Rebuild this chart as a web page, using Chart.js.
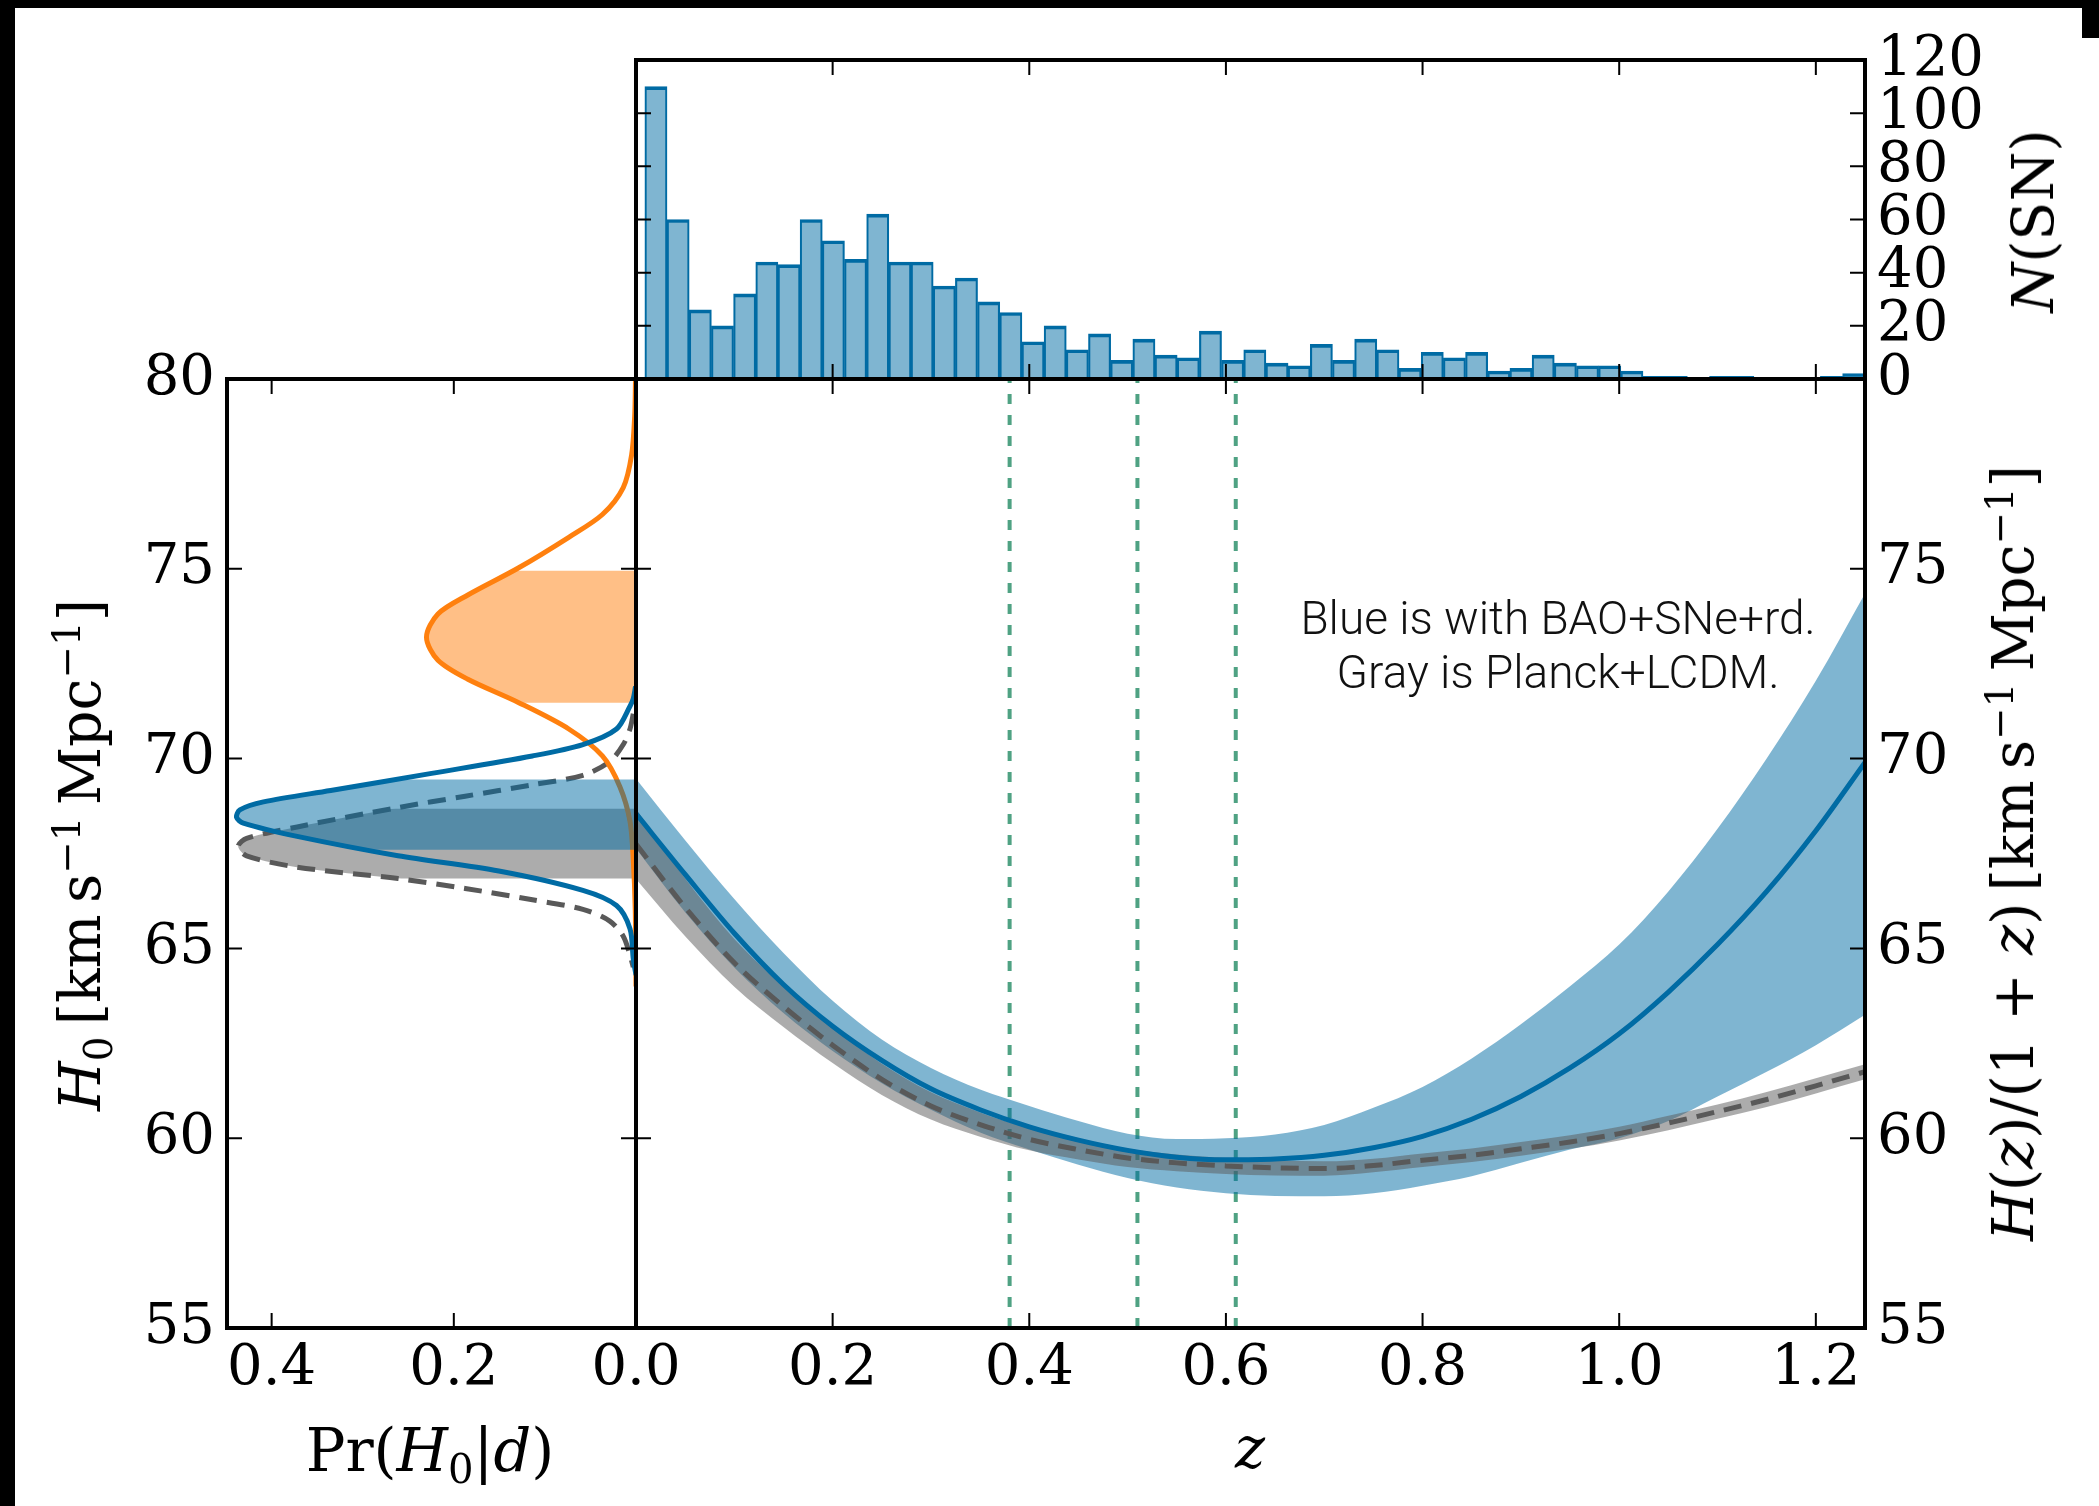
<!DOCTYPE html>
<html>
<head>
<meta charset="utf-8">
<script src="https://cdn.jsdelivr.net/npm/chart.js@4.4.0/dist/chart.umd.min.js"></script>
<style>
  html, body { margin: 0; padding: 0; background: #fff; }
  #wrap { position: relative; width: 2099px; height: 1506px; overflow: hidden; background: #fff; }
  canvas { position: absolute; left: 0; top: 0; }
  .lbl { position: absolute; font-family: 'DejaVu Serif', serif; font-size: 57px; color: #000; white-space: nowrap; transform: translate(-50%, -50%); }
  .rot { transform: translate(-50%, -50%) rotate(-90deg); }
  .lbl sup, .lbl sub { font-size: 0.68em; line-height: 0; }
  .note { position: absolute; font-family: Roboto, 'Open Sans', sans-serif; font-weight: 300; font-size: 46px; line-height: 54px; text-align: center; white-space: nowrap; transform: translateX(-50%); color: #111; }
  .blk { position: absolute; background: #000; }
</style>
</head>
<body>
<div id="wrap">
  <canvas id="left" width="2099" height="1506"></canvas>
  <canvas id="main" width="2099" height="1506"></canvas>
  <canvas id="hist" width="2099" height="1506"></canvas>

  <div class="lbl rot" style="left:80px; top:855px;"><i>H</i><sub>0</sub>&thinsp;[km&thinsp;s<sup>−1</sup>&thinsp;Mpc<sup>−1</sup>]</div>
  <div class="lbl rot" style="left:2013px; top:853px;"><i>H</i>(<i>z</i>)/(1 + <i>z</i>)&thinsp;[km&thinsp;s<sup>−1</sup>&thinsp;Mpc<sup>−1</sup>]</div>
  <div class="lbl rot" style="left:2033px; top:221px;"><i>N</i>(SN)</div>
  <div class="lbl" style="left:430px; top:1450px; font-size:59px;">Pr(<i>H</i><sub>0</sub>|<i>d</i>)</div>
  <div class="lbl" style="left:1250px; top:1448px;"><i>z</i></div>
  <div class="note" style="left:1558px; top:591px;">Blue is with BAO+SNe+rd.<br>Gray is Planck+LCDM.</div>

  <div class="blk" style="left:0; top:0; width:2099px; height:8px;"></div>
  <div class="blk" style="left:0; top:0; width:15px; height:1506px;"></div>
  <div class="blk" style="left:2082px; top:0; width:17px; height:38px;"></div>
</div>

<script>
// ---- data ----
var zTicks = [0, 0.2, 0.4, 0.6, 0.8, 1.0, 1.2];
var prTicks = [0.4, 0.2];
var hTicks = [55, 60, 65, 70, 75, 80];
var hRightTicks = [55, 60, 65, 70, 75];
var nTicks = [0, 20, 40, 60, 80, 100, 120];

// SN histogram
var binStart = 0.009, binWidth = 0.02256;
var snCounts = [110, 60, 26, 20, 32, 44, 43, 60, 52, 45,
                62, 44, 44, 35, 38, 29, 25, 14, 20, 11,
                17, 7, 15, 9, 8, 18, 7, 11, 6, 5,
                13, 7, 15, 11, 4, 10, 8, 10, 3, 4,
                9, 6, 5, 5, 3, 1, 1, 0, 1, 1,
                0, 0, 0, 1, 2];

// H(z)/(1+z) reconstruction
var zGrid = [0, 0.05, 0.1, 0.15, 0.2, 0.25, 0.3, 0.35, 0.4, 0.45, 0.5, 0.55, 0.6, 0.65, 0.7,
             0.75, 0.8, 0.85, 0.9, 0.95, 1.0, 1.05, 1.1, 1.15, 1.2, 1.25];
var blueMid   = [68.55, 66.95, 65.4, 64.05, 62.95, 62.05, 61.3, 60.75, 60.3, 59.95, 59.68, 59.5, 59.43, 59.45, 59.55,
                 59.75, 60.05, 60.5, 61.1, 61.85, 62.75, 63.85, 65.1, 66.5, 68.1, 69.9];
var blueUpper = [69.47, 67.85, 66.3, 64.88, 63.62, 62.6, 61.85, 61.28, 60.85, 60.45, 60.12, 59.98, 60.0, 60.1, 60.35,
                 60.8, 61.35, 62.1, 63.0, 64.0, 65.1, 66.5, 68.15, 70.0, 72.05, 74.35];
var blueLower = [67.63, 65.95, 64.5, 63.3, 62.3, 61.45, 60.75, 60.15, 59.7, 59.3, 58.95, 58.7, 58.55, 58.48, 58.47,
                 58.55, 58.75, 59.0, 59.35, 59.7, 60.0, 60.45, 61.1, 61.75, 62.45, 63.25];
var grayMid   = [67.75, 66.08, 64.62, 63.47, 62.45, 61.55, 60.85, 60.36, 59.97, 59.7, 59.48, 59.35, 59.27, 59.22, 59.2,
                 59.28, 59.42, 59.55, 59.72, 59.9, 60.12, 60.4, 60.7, 61.02, 61.38, 61.75];
var grayUpper = [68.67, 66.84, 65.25, 64.01, 62.92, 61.96, 61.21, 60.68, 60.26, 59.96, 59.72, 59.57, 59.48, 59.42, 59.39,
                 59.46, 59.6, 59.73, 59.9, 60.08, 60.3, 60.59, 60.89, 61.22, 61.58, 61.95];
var grayLower = [66.83, 65.32, 63.99, 62.93, 61.98, 61.14, 60.49, 60.04, 59.68, 59.44, 59.24, 59.13, 59.06, 59.02, 59.01,
                 59.1, 59.24, 59.37, 59.54, 59.72, 59.94, 60.21, 60.51, 60.82, 61.18, 61.55];
var zBAO = [0.38, 0.51, 0.61];

// Pr(H0|d)
var orangeH  = [80.0, 79.0, 78.0, 77.14, 76.43, 75.83, 75.02, 74.31, 73.81, 73.2, 72.59, 72.09, 71.48, 70.78, 70.07, 69.26, 68.35, 67.34, 66.0, 64.0];
var orangePr = [0.0005, 0.0015, 0.0048, 0.014, 0.0369, 0.0738, 0.1292, 0.1846, 0.2174, 0.23, 0.2174, 0.1846, 0.1292, 0.0738, 0.0369, 0.0177, 0.0066, 0.003, 0.0008, 0.0];
var blueH  = [71.9, 71.58, 71.38, 70.78, 70.37, 70.07, 69.61, 69.16, 68.86, 68.65, 68.45, 68.3, 67.95, 67.44, 67.04, 66.53, 66.13, 65.52, 64.72, 64.3];
var bluePr = [0.0005, 0.003, 0.0066, 0.0214, 0.0583, 0.1137, 0.2244, 0.3352, 0.409, 0.4349, 0.4385, 0.4311, 0.372, 0.2613, 0.1506, 0.0583, 0.0214, 0.0066, 0.003, 0.0];
var grayH  = [71.18, 70.78, 70.37, 69.92, 69.56, 69.31, 69.01, 68.71, 68.2, 67.9, 67.69, 67.44, 67.14, 66.84, 66.58, 66.28, 66.03, 65.72, 65.32, 64.82, 64.51];
var grayPr = [0.003, 0.0066, 0.014, 0.0288, 0.0583, 0.1137, 0.1875, 0.2613, 0.372, 0.4275, 0.4367, 0.4275, 0.372, 0.2613, 0.1875, 0.1137, 0.0583, 0.0288, 0.014, 0.0066, 0.003];
var orangeBand = [71.47, 74.95];
var blueBand = [67.6, 69.45];
var grayBand = [66.84, 68.68];

// ---- styling ----
var BLUE = '#006BA4', ORANGE = '#FF800E', DGRAY = '#595959', GREEN = '#4fa283';
var blueFill = 'rgba(0,107,164,0.5)', grayFill = 'rgba(89,89,89,0.5)', orangeFill = 'rgba(255,128,14,0.5)';

Chart.defaults.font.family = 'DejaVu Serif';
Chart.defaults.font.size = 56;
Chart.defaults.color = '#000';

function pts(xs, ys) { return xs.map(function (x, i) { return {x: x, y: ys[i]}; }); }
function fixW(w) { return function (s) { s.width = w; }; }
function fixH(h) { return function (s) { s.height = h; }; }
function setTicks(list) { return function (s) { s.ticks = list.map(function (v) { return {value: v}; }); }; }

// black frame + inward ticks, matplotlib classic look
var framePlugin = {
  id: 'frame',
  afterDraw: function (chart, args, opts) {
    var ctx = chart.ctx, a = chart.chartArea, sx = chart.scales.x, sy = chart.scales.y;
    ctx.save();
    ctx.strokeStyle = '#000';
    ctx.lineWidth = 2;
    ctx.beginPath();
    (opts.xTicks || []).forEach(function (v) {
      var px = sx.getPixelForValue(v);
      ctx.moveTo(px, a.bottom); ctx.lineTo(px, a.bottom - 15);
      ctx.moveTo(px, a.top); ctx.lineTo(px, a.top + 15);
    });
    (opts.yTicks || []).forEach(function (v) {
      var py = sy.getPixelForValue(v);
      ctx.moveTo(a.left, py); ctx.lineTo(a.left + 15, py);
      ctx.moveTo(a.right, py); ctx.lineTo(a.right - 15, py);
    });
    ctx.stroke();
    ctx.lineWidth = 4;
    ctx.strokeRect(a.left, a.top, a.right - a.left, a.bottom - a.top);
    ctx.restore();
  }
};

// shade the area between a curve and Pr=0 inside an H0 interval
var shadePlugin = {
  id: 'shade',
  beforeDatasetDraw: function (chart, args) {
    var ds = chart.data.datasets[args.index];
    if (!ds.band) return;
    var ctx = chart.ctx, a = chart.chartArea, sx = chart.scales.x, sy = chart.scales.y;
    var line = args.meta.dataset;
    line.updateControlPoints(a, 'x');
    var x0 = sx.getPixelForValue(0);
    var yHi = sy.getPixelForValue(ds.band[1]), yLo = sy.getPixelForValue(ds.band[0]);
    var p = line.points;
    ctx.save();
    ctx.beginPath();
    ctx.rect(a.left, yHi, a.right - a.left, yLo - yHi);
    ctx.clip();
    ctx.beginPath();
    line.path(ctx);
    ctx.lineTo(x0, p[p.length - 1].y);
    ctx.lineTo(x0, p[0].y);
    ctx.closePath();
    ctx.fillStyle = ds.bandColor;
    ctx.fill();
    ctx.restore();
  }
};

var noPlug = { legend: {display: false}, tooltip: {enabled: false} };

// ---- main panel ----
var curve = { pointRadius: 0, cubicInterpolationMode: 'monotone' };
var mainSets = [
  Object.assign({ data: pts(zGrid, blueUpper), borderWidth: 0, fill: '+1', backgroundColor: blueFill, order: 10 }, curve),
  Object.assign({ data: pts(zGrid, blueLower), borderWidth: 0, fill: false, order: 10 }, curve),
  Object.assign({ data: pts(zGrid, grayUpper), borderWidth: 0, fill: '+1', backgroundColor: grayFill, order: 9 }, curve),
  Object.assign({ data: pts(zGrid, grayLower), borderWidth: 0, fill: false, order: 9 }, curve),
  Object.assign({ data: pts(zGrid, grayMid), borderColor: DGRAY, borderWidth: 5, borderDash: [18, 10], fill: false, order: 8 }, curve),
  Object.assign({ data: pts(zGrid, blueMid), borderColor: BLUE, borderWidth: 5, fill: false, order: 7 }, curve)
];
zBAO.forEach(function (z) {
  mainSets.push({ data: [{x: z, y: 55}, {x: z, y: 80}], borderColor: GREEN, borderWidth: 4, borderDash: [10, 11], pointRadius: 0, fill: false, order: 12 });
});

new Chart(document.getElementById('main'), {
  type: 'line',
  data: { datasets: mainSets },
  options: {
    responsive: false, animation: false,
    layout: { padding: { left: 636, top: 379, right: 54, bottom: 58 } },
    plugins: Object.assign({ frame: { xTicks: zTicks, yTicks: hTicks } }, noPlug),
    scales: {
      x: { type: 'linear', position: 'bottom', min: 0, max: 1.25,
           grid: { display: false, drawTicks: false }, border: { display: false },
           afterBuildTicks: setTicks(zTicks), afterFit: fixH(120),
           ticks: { padding: 8, autoSkip: false, maxRotation: 0, callback: function (v) { return v.toFixed(1); } } },
      y: { type: 'linear', position: 'right', min: 55, max: 80,
           grid: { display: false, drawTicks: false }, border: { display: false },
           afterBuildTicks: setTicks(hRightTicks), afterFit: fixW(180),
           ticks: { padding: 12, autoSkip: false } }
    }
  },
  plugins: [framePlugin]
});

// ---- left panel: Pr(H0|d) ----
new Chart(document.getElementById('left'), {
  type: 'line',
  data: { datasets: [
    { data: pts(grayPr, grayH), borderColor: DGRAY, borderWidth: 5, borderDash: [18, 10], pointRadius: 0, tension: 0.3, fill: false,
      band: grayBand, bandColor: grayFill, order: 3 },
    { data: pts(orangePr, orangeH), borderColor: ORANGE, borderWidth: 5, pointRadius: 0, tension: 0.3, fill: false,
      band: orangeBand, bandColor: orangeFill, order: 2 },
    { data: pts(bluePr, blueH), borderColor: BLUE, borderWidth: 5, pointRadius: 0, tension: 0.3, fill: false,
      band: blueBand, bandColor: blueFill, order: 1 }
  ] },
  options: {
    responsive: false, animation: false,
    layout: { padding: { left: 27, top: 379, right: 1463, bottom: 58 } },
    plugins: Object.assign({ frame: { xTicks: [0, 0.2, 0.4], yTicks: hTicks } }, noPlug),
    scales: {
      x: { type: 'linear', position: 'bottom', min: 0, max: 0.449, reverse: true,
           grid: { display: false, drawTicks: false }, border: { display: false },
           afterBuildTicks: setTicks(prTicks), afterFit: fixH(120),
           ticks: { padding: 8, autoSkip: false, maxRotation: 0, callback: function (v) { return v.toFixed(1); } } },
      y: { type: 'linear', position: 'left', min: 55, max: 80,
           grid: { display: false, drawTicks: false }, border: { display: false },
           afterBuildTicks: setTicks(hTicks), afterFit: fixW(200),
           ticks: { padding: 12, autoSkip: false } }
    }
  },
  plugins: [shadePlugin, framePlugin]
});

// ---- top panel: SN histogram ----
var binCenters = snCounts.map(function (c, i) { return binStart + (i + 0.5) * binWidth; });
new Chart(document.getElementById('hist'), {
  type: 'bar',
  data: { datasets: [{
    data: pts(binCenters, snCounts),
    backgroundColor: blueFill, borderColor: BLUE,
    borderWidth: { top: 3, left: 1.5, right: 1.5, bottom: 0 }, borderSkipped: 'start',
    barPercentage: 1, categoryPercentage: 1
  }] },
  options: {
    responsive: false, animation: false,
    layout: { padding: { left: 636, top: 60, right: 54, bottom: 1127 } },
    plugins: Object.assign({ frame: { xTicks: zTicks, yTicks: nTicks } }, noPlug),
    scales: {
      x: { type: 'linear', min: 0, max: 1.25, offset: false, display: false },
      y: { type: 'linear', position: 'right', min: 0, max: 120,
           grid: { display: false, drawTicks: false }, border: { display: false },
           afterBuildTicks: setTicks(nTicks), afterFit: fixW(180),
           ticks: { padding: 12, autoSkip: false } }
    }
  },
  plugins: [framePlugin]
});
</script>
</body>
</html>
